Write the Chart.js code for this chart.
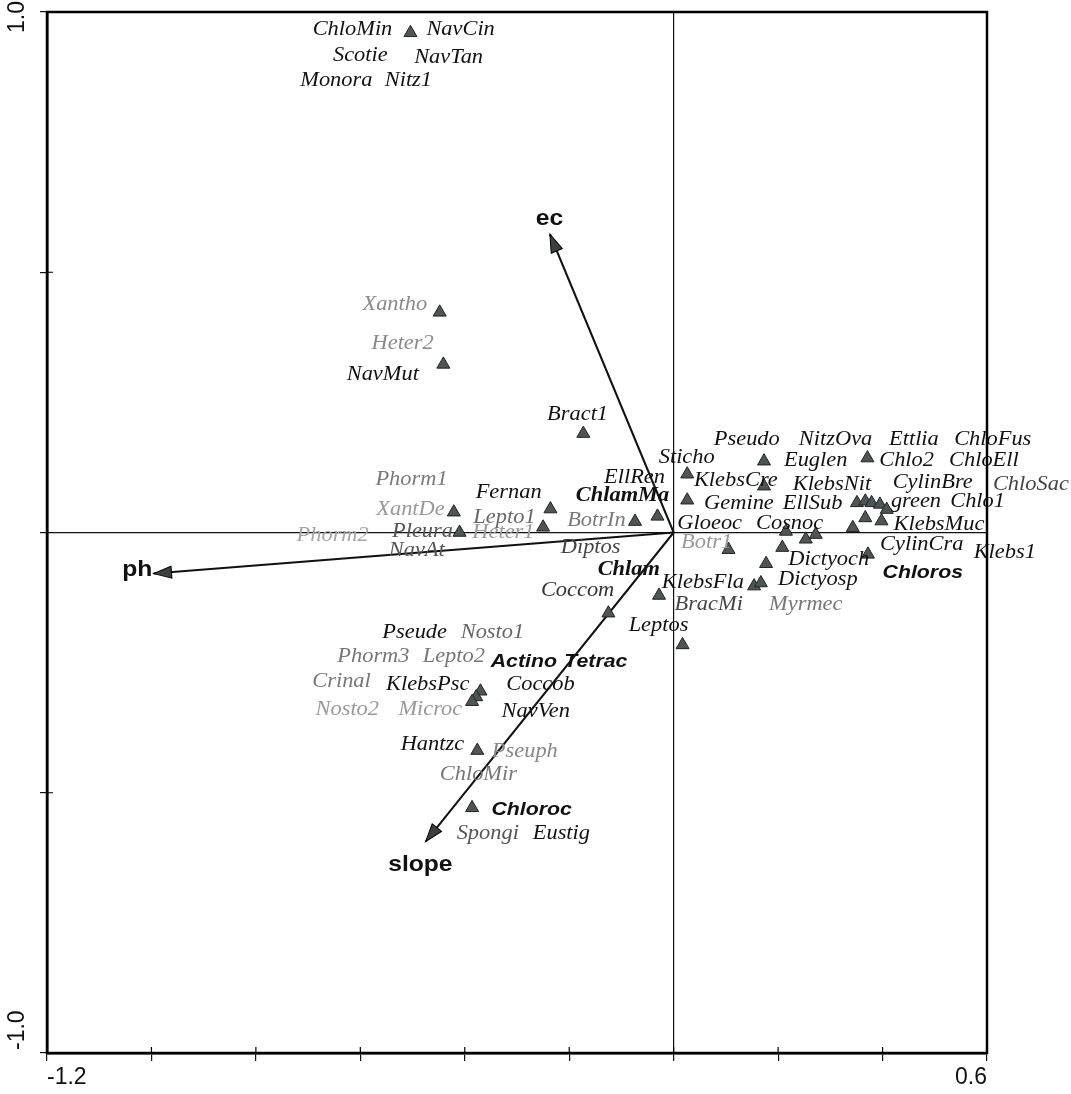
<!DOCTYPE html>
<html>
<head>
<meta charset="utf-8">
<script src="https://cdn.jsdelivr.net/npm/chart.js@4/dist/chart.umd.min.js"></script>
<style>
  html, body { margin: 0; padding: 0; background: #fff; }
  canvas { display: block; }
</style>
</head>
<body>
<canvas id="cca" width="1071" height="1094"></canvas>
<script>
// axis ticks
const xTickValues = [-1.2, -1.0, -0.8, -0.6, -0.4, -0.2, 0, 0.2, 0.4, 0.6];
const xTickLabels = ["-1.2", "", "", "", "", "", "", "", "", "0.6"];
const yTickValues = [-1.0, -0.5, 0, 0.5, 1.0];
const yTickLabels = ["-1.0", "", "", "", "1.0"];

// species scores (triangles)
const speciesX = [-0.504, -0.448, -0.441, -0.173, -0.421, -0.410, -0.236, -0.250, -0.074, -0.031,
    0.026, 0.026, 0.173, 0.173, 0.371, 0.351, 0.367, 0.379, 0.395, 0.408,
    0.367, 0.398, 0.343, 0.215, 0.253, 0.272, 0.208, 0.105, 0.177, 0.372,
    0.154, 0.167, -0.028, -0.125, 0.017, -0.370, -0.378, -0.386, -0.376, -0.386];
const speciesY = [0.960, 0.423, 0.323, 0.190, 0.039, 0.000, 0.045, 0.010, 0.021, 0.031,
    0.112, 0.062, 0.137, 0.089, 0.143, 0.057, 0.060, 0.057, 0.054, 0.044,
    0.028, 0.022, 0.009, 0.002, -0.013, -0.004, -0.029, -0.033, -0.060, -0.042,
    -0.103, -0.097, -0.121, -0.155, -0.216, -0.305, -0.316, -0.325, -0.419, -0.529];

// species names and where their text sits
const labelNames = ["ChloMin", "NavCin", "Scotie", "NavTan", "Monora", "Nitz1",
    "Xantho", "Heter2", "NavMut", "Bract1", "Phorm1", "Fernan", "XantDe", "Lepto1",
    "ChlamMa", "EllRen", "BotrIn", "Phorm2", "Pleura", "Heter1", "NavAt", "Diptos",
    "Sticho", "Pseudo", "NitzOva", "Ettlia", "ChloFus", "Euglen", "Chlo2", "ChloEll",
    "KlebsCre", "KlebsNit", "CylinBre", "ChloSac", "Gemine", "EllSub", "green", "Chlo1",
    "Gloeoc", "Cosnoc", "KlebsMuc", "Botr1", "CylinCra", "Klebs1", "Dictyoch", "Chloros",
    "KlebsFla", "Dictyosp", "BracMi", "Myrmec", "Chlam", "Coccom", "Leptos",
    "Pseude", "Nosto1", "Phorm3", "Lepto2", "Actino", "Tetrac", "Crinal", "KlebsPsc",
    "Coccob", "Nosto2", "Microc", "NavVen", "Hantzc", "Pseuph", "ChloMir", "Chloroc",
    "Spongi", "Eustig"];
const labelX = [-0.615, -0.408, -0.600, -0.431, -0.646, -0.508,
    -0.534, -0.519, -0.557, -0.184, -0.502, -0.316, -0.504, -0.324,
    -0.098, -0.075, -0.148, -0.653, -0.481, -0.326, -0.492, -0.159,
    0.025, 0.140, 0.310, 0.460, 0.611, 0.272, 0.446, 0.594,
    0.119, 0.303, 0.496, 0.684, 0.125, 0.266, 0.464, 0.582,
    0.069, 0.222, 0.508, 0.063, 0.475, 0.634, 0.297, 0.477,
    0.056, 0.276, 0.067, 0.253, -0.086, -0.184, -0.029,
    -0.496, -0.347, -0.575, -0.421, -0.287, -0.149, -0.636, -0.471,
    -0.255, -0.625, -0.466, -0.264, -0.462, -0.285, -0.374, -0.272,
    -0.356, -0.215];
const labelY = [0.965, 0.965, 0.915, 0.913, 0.867, 0.867,
    0.438, 0.362, 0.304, 0.227, 0.102, 0.077, 0.044, 0.029,
    0.071, 0.106, 0.023, -0.006, 0.002, 0.000, -0.035, -0.029,
    0.144, 0.179, 0.179, 0.179, 0.179, 0.138, 0.138, 0.138,
    0.100, 0.092, 0.096, 0.092, 0.056, 0.056, 0.060, 0.060,
    0.017, 0.017, 0.015, -0.019, -0.023, -0.038, -0.052, -0.077,
    -0.096, -0.090, -0.138, -0.138, -0.071, -0.112, -0.179,
    -0.192, -0.192, -0.238, -0.238, -0.248, -0.248, -0.287, -0.292,
    -0.292, -0.340, -0.340, -0.344, -0.408, -0.421, -0.465, -0.533,
    -0.579, -0.579];

// environmental arrows
const envNames = ["ph", "ec", "slope"];
const envX = [-0.996, -0.237, -0.475];
const envY = [-0.079, 0.573, -0.594];
const envLabelX = [-1.027, -0.238, -0.485];
const envLabelY = [-0.071, 0.602, -0.638];

// text styles
const boldSerif = ["ChlamMa", "Chlam"];
const boldSans = ["Actino", "Tetrac", "Chloroc", "Chloros"];
const greyText = {
    Xantho: "#8a8a8a", Heter2: "#8a8a8a", Phorm1: "#7a7a7a", XantDe: "#999", Phorm2: "#a5a5a5",
    Heter1: "#999", BotrIn: "#7a7a7a", Botr1: "#999", Pleura: "#555", NavAt: "#555",
    Diptos: "#444", Myrmec: "#777", Nosto1: "#666", Phorm3: "#777", Lepto2: "#777",
    Crinal: "#777", Nosto2: "#999", Microc: "#999", Pseuph: "#888", ChloMir: "#777",
    Spongi: "#555", ChloSac: "#444", Lepto1: "#666", Coccom: "#333", BracMi: "#444"
};

const speciesPoints = speciesX.map((x, i) => ({ x: x, y: speciesY[i] }));

const arrowSets = envNames.map((name, i) => ({
    type: "line",
    label: name,
    data: [{ x: 0, y: 0 }, { x: envX[i], y: envY[i] }],
    borderColor: "#111",
    borderWidth: 2,
    pointRadius: 0,
    fill: false,
    isArrow: true
}));

const STRETCH = 1.12;

function drawText(ctx, txt, px, py, font, color) {
    ctx.save();
    ctx.translate(px, py);
    ctx.scale(STRETCH, 1);
    ctx.font = font;
    ctx.fillStyle = color;
    ctx.textAlign = "center";
    ctx.textBaseline = "middle";
    ctx.fillText(txt, 0, 0);
    ctx.restore();
}

const biplotPlugin = {
    id: "biplot",
    afterDatasetsDraw(chart) {
        const ctx = chart.ctx;
        const xs = chart.scales.x, ys = chart.scales.y;
        const area = chart.chartArea;

        // frame
        ctx.save();
        ctx.strokeStyle = "#000";
        ctx.lineWidth = 2.5;
        ctx.strokeRect(area.left, area.top, area.right - area.left, area.bottom - area.top);

        // inner half of the tick marks (they cross the axis line)
        ctx.lineWidth = 1.2;
        ctx.beginPath();
        xTickValues.forEach(v => {
            const px = xs.getPixelForValue(v);
            ctx.moveTo(px, area.bottom);
            ctx.lineTo(px, area.bottom - 6);
        });
        yTickValues.forEach(v => {
            const py = ys.getPixelForValue(v);
            ctx.moveTo(area.left, py);
            ctx.lineTo(area.left + 6, py);
        });
        ctx.stroke();
        ctx.restore();

        // arrow heads
        chart.data.datasets.forEach((ds, i) => {
            if (!ds.isArrow) return;
            const meta = chart.getDatasetMeta(i);
            const p0 = meta.data[0], p1 = meta.data[1];
            const ang = Math.atan2(p1.y - p0.y, p1.x - p0.x);
            const len = 18, half = 6;
            ctx.save();
            ctx.translate(p1.x, p1.y);
            ctx.rotate(ang);
            ctx.beginPath();
            ctx.moveTo(0, 0);
            ctx.lineTo(-len, -half);
            ctx.lineTo(-len, half);
            ctx.closePath();
            ctx.fillStyle = "#3a3f3f";
            ctx.fill();
            ctx.strokeStyle = "#000";
            ctx.lineWidth = 1;
            ctx.stroke();
            ctx.restore();
        });

        // species names
        labelNames.forEach((name, i) => {
            const px = xs.getPixelForValue(labelX[i]);
            const py = ys.getPixelForValue(labelY[i]);
            let font = "italic 20px 'Liberation Serif', 'DejaVu Serif', serif";
            let color = greyText[name] || "#111";
            if (boldSerif.includes(name)) font = "italic bold 20px 'Liberation Serif', serif";
            if (boldSans.includes(name)) font = "italic bold 19px 'Liberation Sans', Arial, sans-serif";
            drawText(ctx, name, px, py, font, color);
        });

        // environmental variable names
        envNames.forEach((name, i) => {
            const px = xs.getPixelForValue(envLabelX[i]);
            const py = ys.getPixelForValue(envLabelY[i]);
            drawText(ctx, name, px, py, "bold 22px 'Liberation Sans', Arial, sans-serif", "#111");
        });

        // rotated y tick labels
        ctx.save();
        ctx.font = "23px 'Liberation Sans', Arial, sans-serif";
        ctx.fillStyle = "#111";
        ctx.textBaseline = "middle";
        yTickValues.forEach((v, i) => {
            const txt = yTickLabels[i];
            if (!txt) return;
            const py = ys.getPixelForValue(v);
            ctx.save();
            if (v > 0) {
                ctx.translate(18, py + 5);
                ctx.rotate(-Math.PI / 2);
                ctx.textAlign = "center";
            } else {
                ctx.translate(18, py - 3);
                ctx.rotate(-Math.PI / 2);
                ctx.textAlign = "left";
            }
            ctx.fillText(txt, 0, 0);
            ctx.restore();
        });
        ctx.restore();
    }
};

function zeroOnly(c) {
    return c.tick && Math.abs(c.tick.value) < 1e-9 ? "#111" : "rgba(0,0,0,0)";
}

new Chart(document.getElementById("cca"), {
    type: "scatter",
    data: {
        datasets: [
            {
                label: "species",
                data: speciesPoints,
                pointStyle: "triangle",
                pointRadius: 7.5,
                backgroundColor: "#4f5555",
                borderColor: "#222",
                borderWidth: 1
            },
            ...arrowSets
        ]
    },
    options: {
        responsive: false,
        maintainAspectRatio: false,
        animation: false,
        layout: { padding: { left: 0, right: 84, top: 12, bottom: 0 } },
        plugins: {
            legend: { display: false },
            tooltip: { enabled: false }
        },
        scales: {
            x: {
                type: "linear",
                min: -1.2,
                max: 0.6,
                afterBuildTicks: s => { s.ticks = xTickValues.map(v => ({ value: v })); },
                afterFit: s => { s.height = 41; },
                ticks: {
                    autoSkip: false,
                    maxRotation: 0,
                    align: "inner",
                    padding: 3,
                    color: "#111",
                    font: { family: "'Liberation Sans', Arial, sans-serif", size: 23 },
                    callback: (v, i) => xTickLabels[i]
                },
                grid: {
                    color: zeroOnly,
                    lineWidth: 1.2,
                    tickColor: "#111",
                    tickLength: 8
                },
                border: { color: "#000", width: 2.5 }
            },
            y: {
                type: "linear",
                min: -1,
                max: 1,
                afterBuildTicks: s => { s.ticks = yTickValues.map(v => ({ value: v })); },
                afterFit: s => { s.width = 47; },
                ticks: { display: false },
                grid: {
                    color: zeroOnly,
                    lineWidth: 1.2,
                    tickColor: "#111",
                    tickLength: 7
                },
                border: { color: "#000", width: 2.5 }
            }
        }
    },
    plugins: [biplotPlugin]
});
</script>
</body>
</html>
